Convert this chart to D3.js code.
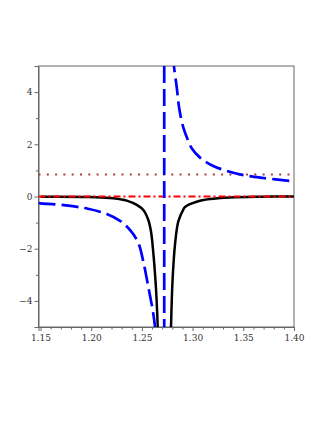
<!DOCTYPE html>
<html>
<head>
<meta charset="utf-8">
<script src="https://cdn.jsdelivr.net/npm/d3@7"></script>
<style>
  body { margin: 0; background: #fff; }
  .tick text { font-family: "DejaVu Serif", serif; font-size: 9px; fill: #333; }
</style>
</head>
<body>
<div id="chart"></div>
<script>
// Chart data
var xTicks = [1.15, 1.20, 1.25, 1.30, 1.35, 1.40];
var yTicks = [-4, -2, 0, 2, 4];

// black solid curve, two branches
var blackLeftX = [1.150, 1.1988, 1.2185, 1.2290, 1.2350, 1.2449, 1.2514, 1.2563, 1.2590, 1.2605, 1.2622, 1.2640, 1.2656, 1.2662];
var blackLeftY = [-0.01, -0.02, -0.06, -0.11, -0.16, -0.32, -0.52, -0.90, -1.35, -1.85, -2.6, -3.6, -5.0, -5.8];
var blackRightX = [1.2781, 1.2787, 1.2795, 1.2805, 1.2826, 1.2859, 1.2908, 1.2925, 1.3040, 1.3171, 1.3369, 1.3665, 1.400];
var blackRightY = [-5.8, -5.0, -3.9, -3.0, -1.85, -0.95, -0.50, -0.40, -0.20, -0.10, -0.04, -0.01, 0.0];

// blue dashed curve, two branches
var blueLeftX = [1.148, 1.150, 1.175, 1.1968, 1.2153, 1.2284, 1.2382, 1.2464, 1.2514, 1.2563, 1.2612, 1.2629, 1.2634];
var blueLeftY = [-0.25, -0.26, -0.34, -0.47, -0.67, -0.93, -1.28, -1.77, -2.5, -3.46, -4.48, -5.0, -5.3];
var blueRightX = [1.2811, 1.2816, 1.2843, 1.2869, 1.2908, 1.2957, 1.2991, 1.3073, 1.3188, 1.3336, 1.3500, 1.3697, 1.3987, 1.400];
var blueRightY = [5.4, 5.0, 4.2, 3.35, 2.65, 2.13, 1.85, 1.49, 1.2, 0.98, 0.82, 0.71, 0.59, 0.59];

// vertical asymptote and horizontal levels
var asymptoteX = 1.272;
var dottedLevel = 0.84;
var dashDotLevel = 0;

// Set up chart
var svgWidth = 327;
var svgHeight = 423;
var margin = { top: 66, right: 33, bottom: 96, left: 38.5 };
var width = svgWidth - margin.left - margin.right;
var height = svgHeight - margin.top - margin.bottom;

var svg = d3.select("#chart")
  .append("svg")
  .attr("width", svgWidth)
  .attr("height", svgHeight);

var chartGroup = svg.append("g")
  .attr("transform", `translate(${margin.left}, ${margin.top})`);

var xScale = d3.scaleLinear().domain([1.148, 1.40]).range([0, width]);
var yScale = d3.scaleLinear().domain([-5, 5]).range([height, 0]);

svg.append("defs").append("clipPath").attr("id", "clip")
  .append("rect").attr("width", width).attr("height", height);

// frame
chartGroup.append("rect")
  .attr("width", width).attr("height", height)
  .attr("fill", "none").attr("stroke", "#666").attr("stroke-width", 1);

// minor ticks
var xMinor = d3.range(115, 141).map(d => d / 100).filter(d => xTicks.indexOf(d) < 0);
var yMinor = [-5, -3, -1, 1, 3, 5];

chartGroup.append("g")
  .attr("transform", `translate(0, ${height})`)
  .call(d3.axisBottom(xScale).tickValues(xMinor).tickSize(2.5).tickFormat(""))
  .call(g => g.select(".domain").remove())
  .call(g => g.selectAll("line").attr("stroke", "#666"));

chartGroup.append("g")
  .call(d3.axisLeft(yScale).tickValues(yMinor).tickSize(2.5).tickFormat(""))
  .call(g => g.select(".domain").remove())
  .call(g => g.selectAll("line").attr("stroke", "#666"));

// major axes
chartGroup.append("g")
  .attr("transform", `translate(0, ${height})`)
  .call(d3.axisBottom(xScale).tickValues(xTicks).tickSize(4).tickPadding(4).tickFormat(d3.format(".2f")))
  .call(g => g.select(".domain").attr("stroke", "#666"))
  .call(g => g.selectAll("line").attr("stroke", "#666"));

chartGroup.append("g")
  .call(d3.axisLeft(yScale).tickValues(yTicks).tickSize(4).tickPadding(2).tickFormat(d3.format("d")))
  .call(g => g.select(".domain").attr("stroke", "#666"))
  .call(g => g.selectAll("line").attr("stroke", "#666"));

// curves
var plot = chartGroup.append("g").attr("clip-path", "url(#clip)");

var line = d3.line()
  .x(d => xScale(d[0]))
  .y(d => yScale(d[1]))
  .curve(d3.curveCatmullRom.alpha(0.5));

function pairs(xs, ys) {
  return xs.map((x, i) => [x, ys[i]]);
}

plot.append("path")
  .datum(pairs(blackLeftX, blackLeftY))
  .attr("d", line).attr("fill", "none")
  .attr("stroke", "#000").attr("stroke-width", 2.5);

plot.append("path")
  .datum(pairs(blackRightX, blackRightY))
  .attr("d", line).attr("fill", "none")
  .attr("stroke", "#000").attr("stroke-width", 2.5);

plot.append("line")
  .attr("x1", 0).attr("x2", width)
  .attr("y1", yScale(dottedLevel)).attr("y2", yScale(dottedLevel))
  .attr("stroke", "#b03a3a").attr("stroke-width", 2)
  .attr("stroke-dasharray", "2,6.3");

plot.append("line")
  .attr("x1", 0).attr("x2", width)
  .attr("y1", yScale(dashDotLevel)).attr("y2", yScale(dashDotLevel))
  .attr("stroke", "#ff0000").attr("stroke-width", 2)
  .attr("stroke-dasharray", "7,3,2,3");

plot.append("line")
  .attr("x1", xScale(asymptoteX)).attr("x2", xScale(asymptoteX))
  .attr("y1", 0).attr("y2", height)
  .attr("stroke", "#0000ff").attr("stroke-width", 2.7)
  .attr("stroke-dasharray", "17,6");

plot.append("path")
  .datum(pairs(blueLeftX, blueLeftY))
  .attr("d", line).attr("fill", "none")
  .attr("stroke", "#0000ff").attr("stroke-width", 2.7)
  .attr("stroke-dasharray", "17,6");

plot.append("path")
  .datum(pairs(blueRightX, blueRightY))
  .attr("d", line).attr("fill", "none")
  .attr("stroke", "#0000ff").attr("stroke-width", 2.7)
  .attr("stroke-dasharray", "17,6");
</script>
</body>
</html>
